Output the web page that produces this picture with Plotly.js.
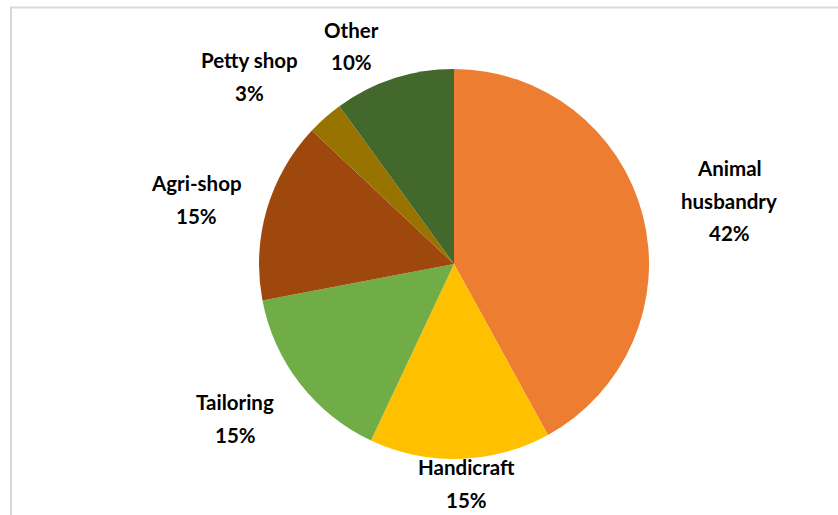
<!DOCTYPE html>
<html>
<head>
<meta charset="utf-8">
<script src="https://cdn.plot.ly/plotly-3.0.1.min.js"></script>
<style>html,body{margin:0;padding:0;background:#fff;}#chart{width:838px;height:515px;}</style>
</head>
<body>
<div id="chart"></div>
<script>
const categories = ["Animal husbandry", "Handicraft", "Tailoring", "Agri-shop", "Petty shop", "Other"];
const labelLines = [["Animal", "husbandry"], ["Handicraft"], ["Tailoring"], ["Agri-shop"], ["Petty shop"], ["Other"]];
const values = [42, 15, 15, 15, 3, 10];
const colors = ["#ED7D31", "#FFC000", "#70AD47", "#9E480E", "#997300", "#43682B"];
// label anchor positions in pixels (center x, y of first line)
const labelPos = [[729, 168], [466, 467], [235, 402], [196, 183], [250, 60], [351, 30]];

const W = 838, H = 515, LH = 32.5;
const total = values.reduce((a, b) => a + b, 0);
const annotations = [];
categories.forEach((c, i) => {
  const lines = labelLines[i].concat([Math.round(values[i] / total * 100) + "%"]);
  lines.forEach((t, j) => {
    annotations.push({
      text: t, showarrow: false, xref: "paper", yref: "paper",
      x: labelPos[i][0] / W, y: 1 - (labelPos[i][1] + j * LH) / H,
      xanchor: "center", yanchor: "middle",
      font: {family: "Lato, 'Open Sans', sans-serif", size: 20.5, color: "#000", weight: "bold"}
    });
  });
});

const cx = 454, cy = 264, r = 195;
const trace = {
  type: "pie", labels: categories, values: values, sort: false, direction: "clockwise", rotation: 0,
  marker: {colors: colors, line: {width: 0}},
  textinfo: "none", hoverinfo: "label+percent", showlegend: false,
  domain: {x: [(cx - r) / W, (cx + r) / W], y: [1 - (cy + r) / H, 1 - (cy - r) / H]}
};
const layout = {
  width: W, height: H, margin: {l: 0, r: 0, t: 0, b: 0},
  paper_bgcolor: "#fff", showlegend: false, annotations: annotations,
  shapes: [{type: "rect", xref: "paper", yref: "paper", x0: 11 / W, x1: 1.01, y0: -0.01, y1: 1 - 7.5 / H,
    line: {color: "#D9D9D9", width: 2}, fillcolor: "rgba(0,0,0,0)"}]
};
Plotly.newPlot("chart", [trace], layout, {displayModeBar: false, staticPlot: true});
</script>
</body>
</html>
